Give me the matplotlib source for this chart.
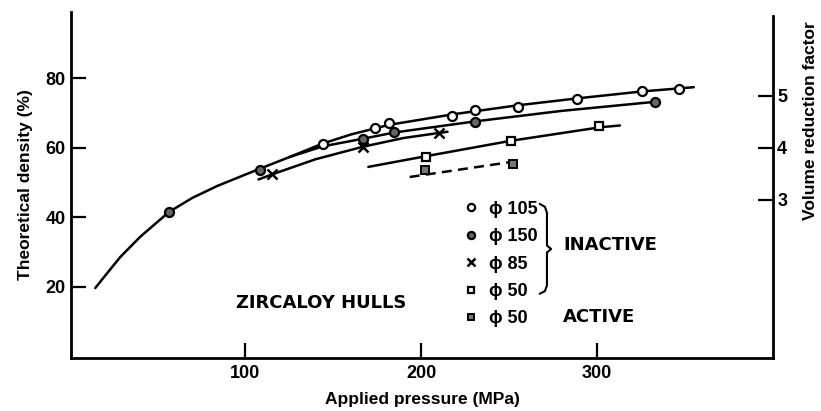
import matplotlib
matplotlib.use("Agg")
import matplotlib.pyplot as plt
from matplotlib.lines import Line2D

plt.rcParams['font.family'] = ['Liberation Sans', 'DejaVu Sans']
plt.rcParams['font.weight'] = 'bold'
plt.rcParams['axes.labelweight'] = 'bold'
plt.rcParams['font.size'] = 12.5

p105_x = [144.2, 173.8, 182.0, 217.5, 230.6, 255.0, 288.6, 325.4, 346.5]
p105_y = [61.1, 65.8, 67.2, 69.1, 70.8, 71.7, 74.0, 76.3, 76.9]
p150_x = [56.7, 108.4, 166.9, 184.5, 230.6, 332.8]
p150_y = [41.6, 53.6, 62.6, 64.5, 67.4, 73.1]
p85_x = [115.2, 166.9, 210.1]
p85_y = [52.5, 60.2, 64.2]
p50_x = [202.7, 251.0, 301.0]
p50_y = [57.3, 61.9, 66.3]
act_x = [202.2, 252.2]
act_y = [53.6, 55.3]

# hand drawn fit curves
stem_x = [14.8, 20, 29, 40.3, 56.8, 70, 84, 107, 125, 144]
stem_y = [19.7, 23.0, 28.6, 34.4, 41.6, 45.6, 49.0, 53.7, 57.3, 61.2]
c105_x = [144, 160, 182, 218, 255, 289, 326, 355]
c105_y = [61.2, 63.8, 66.6, 69.6, 72.2, 74.2, 76.2, 77.4]
c150_x = [125, 144, 167, 185, 231, 280, 333]
c150_y = [57.3, 60.4, 62.6, 64.4, 67.6, 70.6, 73.2]
c85_x = [107.6, 115, 140, 167, 190, 215]
c85_y = [50.9, 52.3, 56.7, 60.3, 62.8, 64.6]
c50_x = [170, 203, 251, 302, 313]
c50_y = [54.5, 57.6, 62.0, 65.9, 66.4]
cact_x = [193.5, 255]
cact_y = [51.6, 56.2]

labels = ['ϕ 105', 'ϕ 150', 'ϕ 85', 'ϕ 50', 'ϕ 50']

fig = plt.figure(figsize=(8.21, 4.11), dpi=100)
ax = fig.add_axes([71/821, 1-358/411, 702/821, 346/411])

lw = 1.8
for cx, cy in [(stem_x, stem_y), (c105_x, c105_y), (c150_x, c150_y),
               (c85_x, c85_y), (c50_x, c50_y)]:
    ax.plot(cx, cy, color='black', lw=lw, solid_capstyle='round',
            solid_joinstyle='round', zorder=2)
ax.plot(cact_x, cact_y, color='black', lw=lw, dashes=(4, 2.5), zorder=2)

h1, = ax.plot(p105_x, p105_y, 'o', ms=6.5, mfc='white', mec='black', mew=1.6, zorder=3)
h2, = ax.plot(p150_x, p150_y, 'o', ms=6.5, mfc='#666666', mec='black', mew=1.6, zorder=3)
h3, = ax.plot(p85_x, p85_y, 'x', ms=7, mec='black', mew=1.8, zorder=3)
h4, = ax.plot(p50_x, p50_y, 's', ms=6, mfc='white', mec='black', mew=1.6, zorder=3)
h5, = ax.plot(act_x, act_y, 's', ms=6, mfc='#777777', mec='black', mew=1.4, zorder=3)

ax.set_xlim(1, 400)
ax.set_ylim(-0.4, 99)
ax.set_xticks([100, 200, 300])
ax.set_yticks([20, 40, 60, 80])
ax.tick_params(axis='both', direction='in', length=11, width=1.6, pad=5, labelsize=13)
ax.tick_params(axis='y', pad=4)
for s in ['top', 'right']:
    ax.spines[s].set_visible(False)
for s in ['left', 'bottom']:
    ax.spines[s].set_linewidth(2)
ax.set_xlabel('Applied pressure (MPa)', labelpad=7)
ax.set_ylabel('Theoretical density (%)', labelpad=9)

ax2 = ax.twinx()
lo, hi = ax.get_ylim()
ax2.set_ylim(lo / 15, hi / 15)
ax2.set_yticks([3, 4, 5])
ax2.tick_params(axis='y', direction='in', length=11, width=1.6, pad=3, labelsize=13)
for s in ['top', 'left', 'bottom']:
    ax2.spines[s].set_visible(False)
ax2.spines['right'].set_linewidth(2)
ax2.spines['right'].set_bounds(lo / 15, 6.52)
ax2.set_ylabel('Volume reduction factor')
ax2.yaxis.set_label_coords(1.043, 0.685)

leg = ax.legend([h1, h2, h3, h4, h5], labels, loc='upper left',
                bbox_to_anchor=(0.56, 0.455), frameon=False, borderpad=0,
                handlelength=0.8, handletextpad=0.6, labelspacing=0.58,
                markerscale=0.8, borderaxespad=0, prop={'size': 13})

# curly brace grouping the inactive entries
bx = [0.668, 0.675, 0.678, 0.678, 0.684, 0.678, 0.678, 0.675, 0.668]
by = [0.445, 0.437, 0.42, 0.325, 0.315, 0.305, 0.21, 0.193, 0.186]
ax.add_line(Line2D(bx, by, transform=ax.transAxes, color='black', lw=1.5,
                   clip_on=False))

wide = dict(family='DejaVu Sans', weight='bold', size=13)
ax.text(0.701, 0.327, 'INACTIVE', transform=ax.transAxes, va='center', ha='left', **wide)
ax.text(0.701, 0.118, 'ACTIVE', transform=ax.transAxes, va='center', ha='left', **wide)
ax.text(0.235, 0.159, 'ZIRCALOY HULLS', transform=ax.transAxes, va='center', ha='left', **wide)

fig.savefig('out.png', dpi=100)
